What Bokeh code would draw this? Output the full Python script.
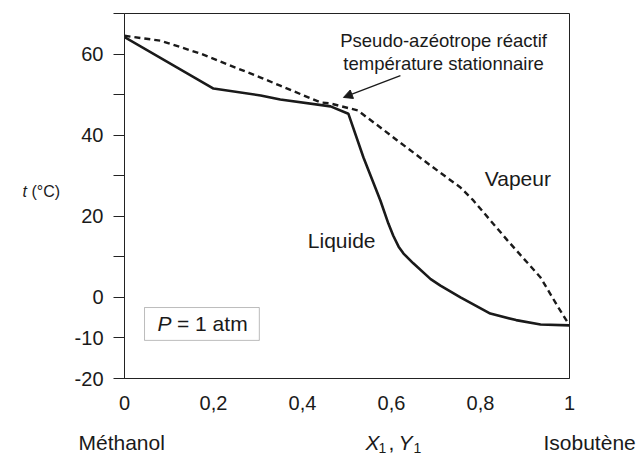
from bokeh.plotting import figure
from bokeh.layouts import row, column
from bokeh.models import Range1d, FixedTicker, Label, Arrow, NormalHead, BoxAnnotation
from bokeh.embed import file_html
from bokeh.resources import INLINE

# ---- data ----
liquid_x = [0.0, 0.2, 0.306, 0.35, 0.463, 0.503, 0.537, 0.575, 0.593, 0.604, 0.616, 0.627, 0.649, 0.688, 0.71, 0.755, 0.822, 0.88, 0.935, 1.0]
liquid_t = [64.2, 51.5, 49.8, 48.8, 47.1, 45.3, 34.5, 23.9, 18.2, 15.2, 12.5, 10.8, 8.4, 4.5, 2.9, 0.0, -4.0, -5.6, -6.7, -6.9]

vapour_x = [0.0, 0.081, 0.171, 0.306, 0.35, 0.44, 0.463, 0.524, 0.575, 0.613, 0.688, 0.755, 0.784, 0.861, 0.935, 0.975, 1.0]
vapour_t = [64.5, 63.3, 60.1, 54.2, 52.2, 48.1, 47.8, 46.1, 41.9, 38.7, 32.5, 27.1, 23.9, 14.0, 4.9, -2.5, -6.9]

x_ticks = [0, 0.2, 0.4, 0.6, 0.8, 1]
x_tick_labels = ["0", "0,2", "0,4", "0,6", "0,8", "1"]
y_ticks = [-20, -10, 0, 10, 20, 30, 40, 50, 60, 70]
y_tick_labels = ["-20", "-10", "0", "", "20", "", "40", "", "60", ""]

FONT = "Liberation Sans"
INK = "#1a1a1a"
LINE = "#222222"


def lab(fig, x, y, text, size, align="left", baseline="middle", style="normal"):
    fig.add_layout(Label(x=x, y=y, text=text, text_font=FONT, text_font_size=size,
                         text_align=align, text_baseline=baseline, text_color=INK,
                         text_font_style=style))


def strip(width, height, x0, x1, ytop, ybot):
    f = figure(width=width, height=height, output_backend="svg", toolbar_location=None,
               x_range=Range1d(x0, x1), y_range=Range1d(ybot, ytop),
               x_axis_location=None, y_axis_location=None,
               min_border=0, min_border_left=0, min_border_right=0,
               min_border_top=0, min_border_bottom=0)
    f.grid.visible = False
    f.outline_line_color = None
    f.background_fill_color = "white"
    f.border_fill_color = "white"
    return f


# ---- main chart ----
p = figure(width=566, height=425, output_backend="svg", toolbar_location=None,
           x_range=Range1d(0, 1), y_range=Range1d(-20, 70),
           min_border_left=54, min_border_right=67, min_border_top=13, min_border_bottom=47)
p.grid.visible = False
p.outline_line_color = LINE
p.outline_line_width = 1
p.background_fill_color = "white"
p.border_fill_color = "white"

xa = p.xaxis[0]
xa.ticker = FixedTicker(ticks=x_ticks)
xa.major_label_overrides = {t: l for t, l in zip(x_ticks, x_tick_labels)}
xa.major_tick_out = 0
xa.major_tick_in = 0
xa.minor_tick_out = 0
xa.minor_tick_in = 0
xa.major_label_standoff = 17
xa.major_label_text_font = FONT
xa.major_label_text_font_size = "20px"
xa.major_label_text_color = INK
xa.axis_line_color = LINE

ya = p.yaxis[0]
ya.ticker = FixedTicker(ticks=y_ticks)
ya.major_label_overrides = {t: l for t, l in zip(y_ticks, y_tick_labels)}
ya.major_tick_out = 11
ya.major_tick_in = 0
ya.minor_tick_out = 0
ya.minor_tick_in = 0
ya.major_label_standoff = 10
ya.major_label_text_font = FONT
ya.major_label_text_font_size = "20px"
ya.major_label_text_color = INK
ya.major_label_text_baseline = "alphabetic"
ya.axis_line_color = LINE
ya.major_tick_line_color = LINE

p.line(liquid_x, liquid_t, line_width=2.6, line_color=INK)
p.line(vapour_x, vapour_t, line_width=2.4, line_color=INK, line_dash="6 4")

lab(p, 0.717, 63.3, "Pseudo-azéotrope réactif", "18.5px", align="center")
lab(p, 0.717, 57.7, "température stationnaire", "18.5px", align="center")
p.add_layout(Arrow(end=NormalHead(size=9, fill_color=INK, line_color=INK, line_width=1),
                   x_start=0.620, y_start=54.7, x_end=0.492, y_end=49.3,
                   line_color=INK, line_width=1.3))

lab(p, 0.884, 29.3, "Vapeur", "21px", align="center")
lab(p, 0.488, 14.0, "Liquide", "21px", align="center")

p.add_layout(BoxAnnotation(left=0.045, right=0.303, top=-2.5, bottom=-10.6,
                           fill_alpha=0, line_color=LINE, line_width=1))
lab(p, 0.074, -6.4, "P", "21px", style="italic")
lab(p, 0.118, -6.4, "= 1 atm", "21px")

# ---- left strip: y title (pixel coordinates of the page) ----
left = strip(70, 463, 0, 70, 0, 463)
lab(left, 22, 191, "t", "16px", baseline="alphabetic", style="italic")
lab(left, 31, 191, "(°C)", "16px", baseline="alphabetic")

# ---- bottom strip: x titles (pixel coordinates of the page; column adds an 8px gap) ----
bottom = strip(566, 30, 70, 636, 433, 463)
lab(bottom, 78, 450, "Méthanol", "21px", baseline="alphabetic")
lab(bottom, 543, 450, "Isobutène", "21px", baseline="alphabetic")
lab(bottom, 365, 450, "X", "21px", baseline="alphabetic", style="italic")
lab(bottom, 378, 455, "1", "14px", baseline="alphabetic")
lab(bottom, 388, 450, ",", "21px", baseline="alphabetic")
lab(bottom, 398, 450, "Y", "21px", baseline="alphabetic", style="italic")
lab(bottom, 413, 455, "1", "14px", baseline="alphabetic")

layout = row(left, column(p, row(bottom)))

open("out.html", "w").write(file_html(layout, INLINE))
